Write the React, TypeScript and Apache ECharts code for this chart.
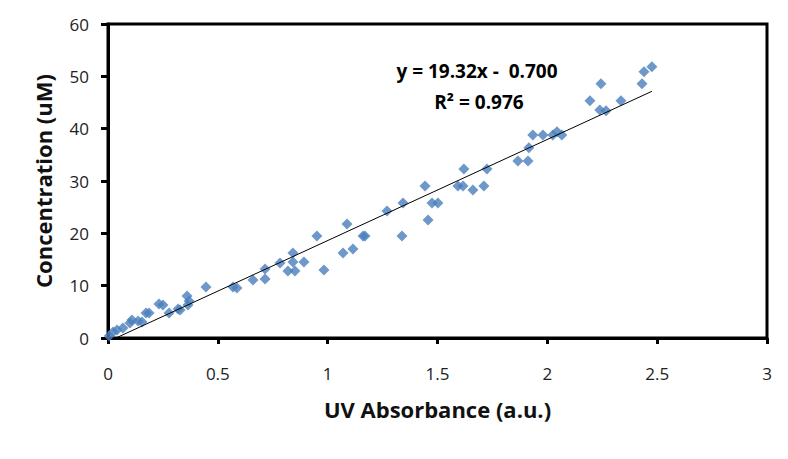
import React, { useEffect, useRef } from "react";
import * as echarts from "echarts";

const absorbance: number[] = [
  0.005, 0.023, 0.041, 0.068, 0.100, 0.109, 0.137, 0.155, 0.173, 0.187,
  0.232, 0.250, 0.278, 0.319, 0.328, 0.360, 0.369, 0.364, 0.446, 0.569,
  0.587, 0.660, 0.715, 0.715, 0.783, 0.819, 0.851, 0.842, 0.842, 0.892,
  0.951, 0.983, 1.070, 1.115, 1.088, 1.161, 1.170, 1.270, 1.338, 1.343,
  1.443, 1.457, 1.475, 1.502, 1.593, 1.616, 1.620, 1.661, 1.711, 1.725,
  1.866, 1.912, 1.916, 1.934, 1.980, 2.025, 2.044, 2.066, 2.194, 2.244,
  2.239, 2.267, 2.335, 2.431, 2.440, 2.476,
];
const concentration: number[] = [
  0.38, 1.15, 1.53, 1.91, 2.87, 3.44, 3.25, 3.06, 4.78, 4.78,
  6.50, 6.31, 4.78, 5.54, 5.35, 8.03, 7.07, 6.31, 9.75, 9.75,
  9.56, 11.09, 11.28, 13.19, 14.34, 12.81, 12.81, 16.25, 14.53, 14.53,
  19.50, 13.00, 16.25, 17.02, 21.80, 19.50, 19.50, 24.28, 19.50, 25.81,
  29.06, 22.56, 25.81, 25.81, 29.06, 29.06, 32.31, 28.30, 29.06, 32.31,
  33.84, 33.84, 36.33, 38.81, 38.81, 38.81, 39.39, 38.81, 45.32, 48.57,
  43.59, 43.40, 45.32, 48.57, 50.86, 51.82,
];

const slope = 19.32;
const intercept = -0.7;
const trendX: number[] = [0.036, 2.476];

const xTicks = { min: 0, max: 3, interval: 0.5 };
const yTicks = { min: 0, max: 60, interval: 10 };

const equationText = "y = 19.32x -  0.700";
const r2Text = "R² = 0.976";

export default function App() {
  const ref = useRef<HTMLDivElement>(null);
  useEffect(() => {
    if (!ref.current) return;
    const chart = echarts.init(ref.current, undefined, { renderer: "svg" });
    const font = "'Open Sans', 'Noto Sans', sans-serif";
    const pts = absorbance.map((x, i) => [x, concentration[i]]);
    const trend = trendX.map((x) => [x, slope * x + intercept]);
    chart.setOption({
      animation: false,
      backgroundColor: "#ffffff",
      grid: {
        left: 108,
        right: 21,
        top: 24,
        bottom: 121,
        show: true,
        borderColor: "#000",
        borderWidth: 3,
        containLabel: false,
      },
      xAxis: {
        type: "value",
        min: xTicks.min,
        max: xTicks.max,
        interval: xTicks.interval,
        name: "UV Absorbance (a.u.)",
        nameLocation: "middle",
        nameGap: 60,
        nameTextStyle: { fontFamily: font, fontSize: 22, fontWeight: "bold", color: "#111" },
        axisLine: { show: true, lineStyle: { color: "#000", width: 3 } },
        axisTick: { show: true, inside: false, length: 6, lineStyle: { color: "#000", width: 3 } },
        axisLabel: {
          margin: 27,
          fontFamily: font,
          fontSize: 17,
          color: "#222",
          formatter: (v: number) => String(v),
        },
        splitLine: { show: false },
      },
      yAxis: {
        type: "value",
        min: yTicks.min,
        max: yTicks.max,
        interval: yTicks.interval,
        name: "Concentration (uM)",
        nameLocation: "middle",
        nameGap: 54,
        nameRotate: 90,
        nameTextStyle: { fontFamily: font, fontSize: 22, fontWeight: "bold", color: "#111" },
        axisLine: { show: true, lineStyle: { color: "#000", width: 3 } },
        axisTick: { show: true, inside: false, length: 7, lineStyle: { color: "#000", width: 3 } },
        axisLabel: { margin: 19, fontFamily: font, fontSize: 17, color: "#222" },
        splitLine: { show: false },
      },
      series: [
        {
          type: "scatter",
          data: pts,
          symbol: "diamond",
          symbolSize: 11,
          itemStyle: { color: "#4A7EBB" },
          z: 3,
        },
        {
          type: "line",
          data: trend,
          symbol: "none",
          lineStyle: { color: "#000", width: 1 },
          z: 4,
        },
      ],
      graphic: [
        {
          type: "text",
          x: 477,
          y: 71,
          style: {
            text: equationText,
            fontFamily: font,
            fontSize: 19,
            fontWeight: "bold",
            fill: "#000",
            align: "center",
            verticalAlign: "middle",
          },
        },
        {
          type: "text",
          x: 479,
          y: 102,
          style: {
            text: r2Text,
            fontFamily: font,
            fontSize: 19,
            fontWeight: "bold",
            fill: "#000",
            align: "center",
            verticalAlign: "middle",
          },
        },
      ],
    });
    return () => chart.dispose();
  }, []);
  return <div ref={ref} style={{ width: 788, height: 459, position: "absolute", left: 0, top: 0 }} />;
}
